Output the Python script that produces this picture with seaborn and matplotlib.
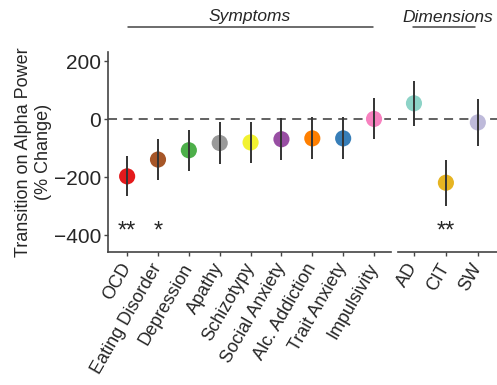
import matplotlib
matplotlib.use("Agg")
import matplotlib.pyplot as plt
import matplotlib.transforms as mtransforms
import seaborn as sns
import pandas as pd
import numpy as np

sns.set_style("ticks")
plt.rcParams['font.family'] = ['Liberation Sans', 'DejaVu Sans']

symptoms = ["OCD", "Eating Disorder", "Depression", "Apathy", "Schizotypy",
            "Social Anxiety", "Alc. Addiction", "Trait Anxiety", "Impulsivity"]
sym_mean = [-197, -139, -107, -82, -80, -69, -66, -66, 1]
sym_lo = [-266, -210, -177, -153, -151, -139, -137, -137, -69]
sym_hi = [-126, -69, -37, -11, -9, 3, 7, 7, 72]
sym_colors = ["#e41a1c", "#a65628", "#4daf4a", "#999999", "#f2f230",
              "#984ea3", "#ff7f00", "#377eb8", "#f781bf"]
sym_stars = ["**", "*", "", "", "", "", "", "", ""]

dims = ["AD", "CIT", "SW"]
dim_mean = [55, -219, -11]
dim_lo = [-23, -299, -91]
dim_hi = [131, -142, 69]
dim_colors = ["#8dd3c7", "#e6b422", "#bebada"]
dim_stars = ["", "**", ""]

yticks = [-400, -200, 0, 200]

fig = plt.figure(figsize=(4.97, 3.85), dpi=100)
ax1 = fig.add_axes([108/497, 1-252/385, 283/497, 200/385])
ax2 = fig.add_axes([398/497, 1-252/385, 99/497, 200/385])

def draw(ax, names, mean, lo, hi, colors, stars):
    df = pd.DataFrame({"x": np.arange(len(names)), "y": mean, "name": names})
    sns.scatterplot(data=df, x="x", y="y", hue="name", palette=colors,
                    s=135, edgecolor="none", legend=False, ax=ax, zorder=2)
    ax.vlines(df["x"], lo, hi, color="#333333", lw=1.4, zorder=3)
    ax.axhline(0, color="#555555", lw=1.3, ls=(0, (5, 3.5)), zorder=1)
    for i, s in enumerate(stars):
        if s:
            ax.text(i, -386, s, ha="center", va="center", fontsize=17)
    ax.set_xticks(df["x"])
    ax.set_xticklabels(names, rotation=60, ha="right", va="center",
                       rotation_mode="anchor", fontsize=13)
    off = mtransforms.ScaledTranslation(6/100, 0, fig.dpi_scale_trans)
    for lab in ax.get_xticklabels():
        lab.set_transform(lab.get_transform() + off)
    ax.set_ylim(-458, 232)
    ax.set_xlabel("")
    ax.set_ylabel("")

draw(ax1, symptoms, sym_mean, sym_lo, sym_hi, sym_colors, sym_stars)
draw(ax2, dims, dim_mean, dim_lo, dim_hi, dim_colors, dim_stars)

ax1.set_xlim(-0.62, 8.55)
ax2.set_xlim(-0.5, 2.6)

ax1.set_yticks(yticks)
ax1.set_yticklabels([str(t).replace("-", "\u2212") for t in yticks], fontsize=15)
ax1.set_ylabel("Transition on Alpha Power\n(% Change)", fontsize=13,
               linespacing=1.25, labelpad=1)
for ax in (ax1, ax2):
    ax.tick_params(axis="both", length=3, width=1, color="#444444", pad=2)
    ax.tick_params(axis="x", pad=6)
    for sp in ax.spines.values():
        sp.set_color("#444444")
        sp.set_linewidth(1.2)
    ax.spines["top"].set_visible(False)
    ax.spines["right"].set_visible(False)
ax2.spines["left"].set_visible(False)
ax2.set_yticks([])

# group headers
fig.text(250/497, 1-17/385, "Symptoms", ha="center", va="center",
         fontsize=12.5, style="italic")
fig.add_artist(plt.Line2D([128/497, 373/497], [1-27/385, 1-27/385],
                          color="#444444", lw=1.1))
fig.text(448/497, 1-17/385, "Dimensions", ha="center", va="center",
         fontsize=12.5, style="italic")
fig.add_artist(plt.Line2D([413/497, 475/497], [1-27/385, 1-27/385],
                          color="#444444", lw=1.1))

fig.savefig("out.png", dpi=100)
